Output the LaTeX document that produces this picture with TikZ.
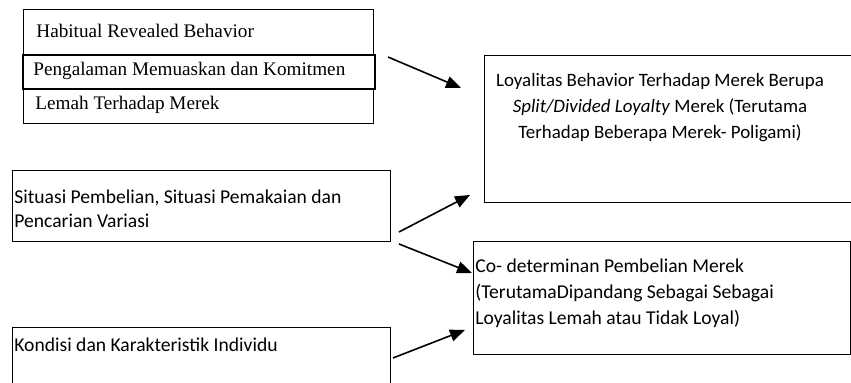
\documentclass[tikz,border=0pt]{standalone}
\usepackage{fontspec}
\setmainfont{Carlito}
\newfontfamily\timesfont{Liberation Serif}
\usetikzlibrary{arrows.meta}

\begin{document}
\begin{tikzpicture}[x=0.5pt,y=-0.5pt,
    box/.style={draw,line width=0.65pt,inner sep=0pt,anchor=north west},
    txt/.style={inner sep=0pt,anchor=north west,align=left,
      font=\fontsize{9.8}{12}\selectfont},
    serif/.style={inner sep=0pt,anchor=west,font=\timesfont\fontsize{9.6}{12}\selectfont},
    arr/.style={line width=0.8pt,-{Triangle[length=7.5pt,width=6pt]}}]
  \useasboundingbox (0,0) rectangle (851,383);
  % boxes
  \node (hab) [box,minimum width=175pt,minimum height=22.5pt] at (23,9) {};
  \node (lem) [box,minimum width=175pt,minimum height=17.5pt] at (23,88) {};
  \node (pen) [box,line width=0.9pt,minimum width=176pt,minimum height=17pt] at (22,54) {};
  \node (loy) [box,minimum width=188pt,minimum height=73.5pt] at (484,55) {};
  \node (sit) [box,minimum width=189pt,minimum height=35.5pt] at (12,170) {};
  \node (kon) [box,minimum width=189pt,minimum height=34pt] at (12,327) {};
  \node (cod) [box,minimum width=188.5pt,minimum height=56.5pt] at (473,241) {};
  % texts
  \node (habt) [serif] at (36,31) {Habitual Revealed Behavior};
  \node (pent) [serif] at (33,71) {Pengalaman Memuaskan dan Komitmen};
  \node (lemt) [serif] at (35,105) {Lemah Terhadap Merek};
  \node (loyt) [txt,anchor=north,align=center,font=\fontsize{9.45}{13}\selectfont] at (660,73)
    {Loyalitas Behavior Terhadap Merek Berupa\\
     \textit{Split/Divided Loyalty} Merek (Terutama\\
     Terhadap Beberapa Merek- Poligami)};
  \node (sitt) [txt] at (14,189)
    {Situasi Pembelian, Situasi Pemakaian dan\\Pencarian Variasi};
  \node (kont) [txt] at (14,337) {Kondisi dan Karakteristik Individu};
  \node (codt) [txt,font=\fontsize{9.8}{13}\selectfont] at (475,258)
    {Co- determinan Pembelian Merek\\
     (TerutamaDipandang Sebagai Sebagai\\
     Loyalitas Lemah atau Tidak Loyal)};
  % arrow ends
  \coordinate (a1s) at (388,57);  \coordinate (a1e) at (461,88);
  \coordinate (a2s) at (399,232); \coordinate (a2e) at (470,195);
  \coordinate (a3s) at (399,244); \coordinate (a3e) at (472,273);
  \coordinate (a4s) at (393,358); \coordinate (a4e) at (465,330);
  \draw[arr] (a1s) -- (a1e);
  \draw[arr] (a2s) -- (a2e);
  \draw[arr] (a3s) -- (a3e);
  \draw[arr] (a4s) -- (a4e);
\end{tikzpicture}
\end{document}
